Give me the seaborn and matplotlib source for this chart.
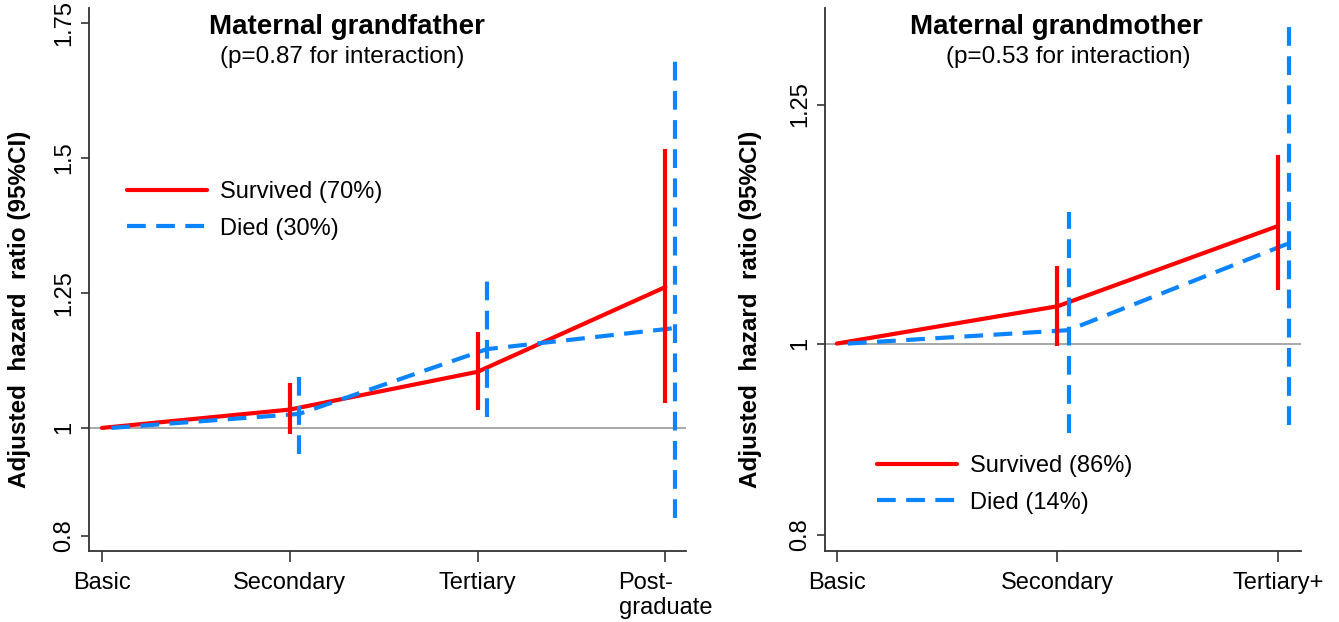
import numpy as np
import pandas as pd
import matplotlib
matplotlib.use('Agg')
import matplotlib.pyplot as plt
import seaborn as sns

# Datos (HR ajustado e IC 95%)
cats_gf = ['Basic', 'Secondary', 'Tertiary', 'Post-\ngraduate']
surv_gf = [1.0, 1.034, 1.104, 1.261]
surv_gf_lo = [np.nan, 0.989, 1.034, 1.047]
surv_gf_hi = [np.nan, 1.083, 1.178, 1.516]
died_gf = [1.0, 1.026, 1.146, 1.185]
died_gf_lo = [np.nan, 0.952, 1.020, 0.833]
died_gf_hi = [np.nan, 1.107, 1.283, 1.685]

cats_gm = ['Basic', 'Secondary', 'Tertiary+']
surv_gm = [1.0, 1.039, 1.123]
surv_gm_lo = [np.nan, 0.997, 1.056]
surv_gm_hi = [np.nan, 1.081, 1.197]
died_gm = [1.0, 1.014, 1.105]
died_gm_lo = [np.nan, 0.906, 0.915]
died_gm_hi = [np.nan, 1.138, 1.334]

ticks_gf = [0.8, 1, 1.25, 1.5, 1.75]
ticks_gm = [0.8, 1, 1.25]

ROJO = '#FF0000'
AZUL = '#0A84FF'
DASH = (4.5, 2.5)
OFFSET = 0.05

sns.set_style('ticks')
plt.rcParams['font.family'] = ['Liberation Sans', 'DejaVu Sans']
for k in ['text.color', 'axes.labelcolor', 'xtick.color', 'ytick.color']:
    plt.rcParams[k] = 'black'

fig = plt.figure(figsize=(13.39, 6.22), dpi=100)
ax1 = fig.add_axes([89 / 1339, 1 - 551 / 622, 597 / 1339, 543 / 622])
ax2 = fig.add_axes([825 / 1339, 1 - 551 / 622, 476 / 1339, 543 / 622])


def panel(ax, cats, s, s_lo, s_hi, d, d_lo, d_hi, lab_s, lab_d, ticks, ylim, xlim):
    x = np.arange(len(cats))
    df = pd.DataFrame({
        'x': np.concatenate([x, x + OFFSET]),
        'hr': s + d,
        'grupo': [lab_s] * len(x) + [lab_d] * len(x),
    })
    ax.axhline(1, color='#9a9a9a', lw=1.2, zorder=1)
    sns.lineplot(data=df, x='x', y='hr', hue='grupo', style='grupo',
                 palette={lab_s: ROJO, lab_d: AZUL},
                 dashes={lab_s: '', lab_d: DASH},
                 hue_order=[lab_s, lab_d], style_order=[lab_s, lab_d],
                 estimator=None, sort=True, lw=3, ax=ax, zorder=3)
    # IC 95% como lineas verticales
    ax.vlines(x, s_lo, s_hi, color=ROJO, lw=3, zorder=3)
    ax.vlines(x + OFFSET, d_lo, d_hi, color=AZUL, lw=3,
              linestyles=[(0, DASH)], zorder=4)

    ax.set_xlim(*xlim)
    ax.set_ylim(*ylim)
    ax.set_xticks(x)
    ax.set_xticklabels(cats, fontsize=17, multialignment='left')
    ax.set_yticks(ticks)
    ax.set_yticklabels([f'{t:g}' for t in ticks], fontsize=17, rotation=90, va='center')
    ax.tick_params(axis='x', length=8, width=1.2, color='#333333', pad=7)
    ax.tick_params(axis='y', length=6, width=1.2, color='#333333', pad=4)
    ax.set_xlabel('')
    ax.set_ylabel('Adjusted  hazard  ratio (95%CI)', fontsize=17.5, fontweight='bold')
    for sp in ['top', 'right']:
        ax.spines[sp].set_visible(False)
    for sp in ['left', 'bottom']:
        ax.spines[sp].set_color('#333333')
        ax.spines[sp].set_linewidth(1.3)
    handles, labels = ax.get_legend_handles_labels()
    ax.get_legend().remove()
    return handles, labels


h1, l1 = panel(ax1, cats_gf, surv_gf, surv_gf_lo, surv_gf_hi,
               died_gf, died_gf_lo, died_gf_hi,
               'Survived (70%)', 'Died (30%)', ticks_gf, (0.772, 1.778), (-0.069, 3.11))
h2, l2 = panel(ax2, cats_gm, surv_gm, surv_gm_lo, surv_gm_hi,
               died_gm, died_gm_lo, died_gm_hi,
               'Survived (86%)', 'Died (14%)', ticks_gm, (0.783, 1.351), (-0.054, 2.104))

ax1.yaxis.set_label_coords(-0.097, 0.446)
ax2.yaxis.set_label_coords(-0.133, 0.446)

for ax, h, l, pos in [(ax1, h1, l1, (127, 181)), (ax2, h2, l2, (877, 455))]:
    fig.legend(h, l, loc='upper left', bbox_to_anchor=(pos[0] / 1339, 1 - pos[1] / 622),
               frameon=False, fontsize=17, handlelength=3.4, handletextpad=0.55,
               labelspacing=0.62, borderpad=0, borderaxespad=0)

# Titulos
fig.text(347 / 1339, 1 - 27 / 622, 'Maternal grandfather', ha='center', va='center',
         fontsize=20, fontweight='bold')
fig.text(342 / 1339, 1 - 57 / 622, '(p=0.87 for interaction)', ha='center', va='center', fontsize=17.5)
fig.text(1056 / 1339, 1 - 27 / 622, 'Maternal grandmother', ha='center', va='center',
         fontsize=20, fontweight='bold')
fig.text(1068 / 1339, 1 - 57 / 622, '(p=0.53 for interaction)', ha='center', va='center', fontsize=17.5)

fig.savefig('out.png', dpi=100)
